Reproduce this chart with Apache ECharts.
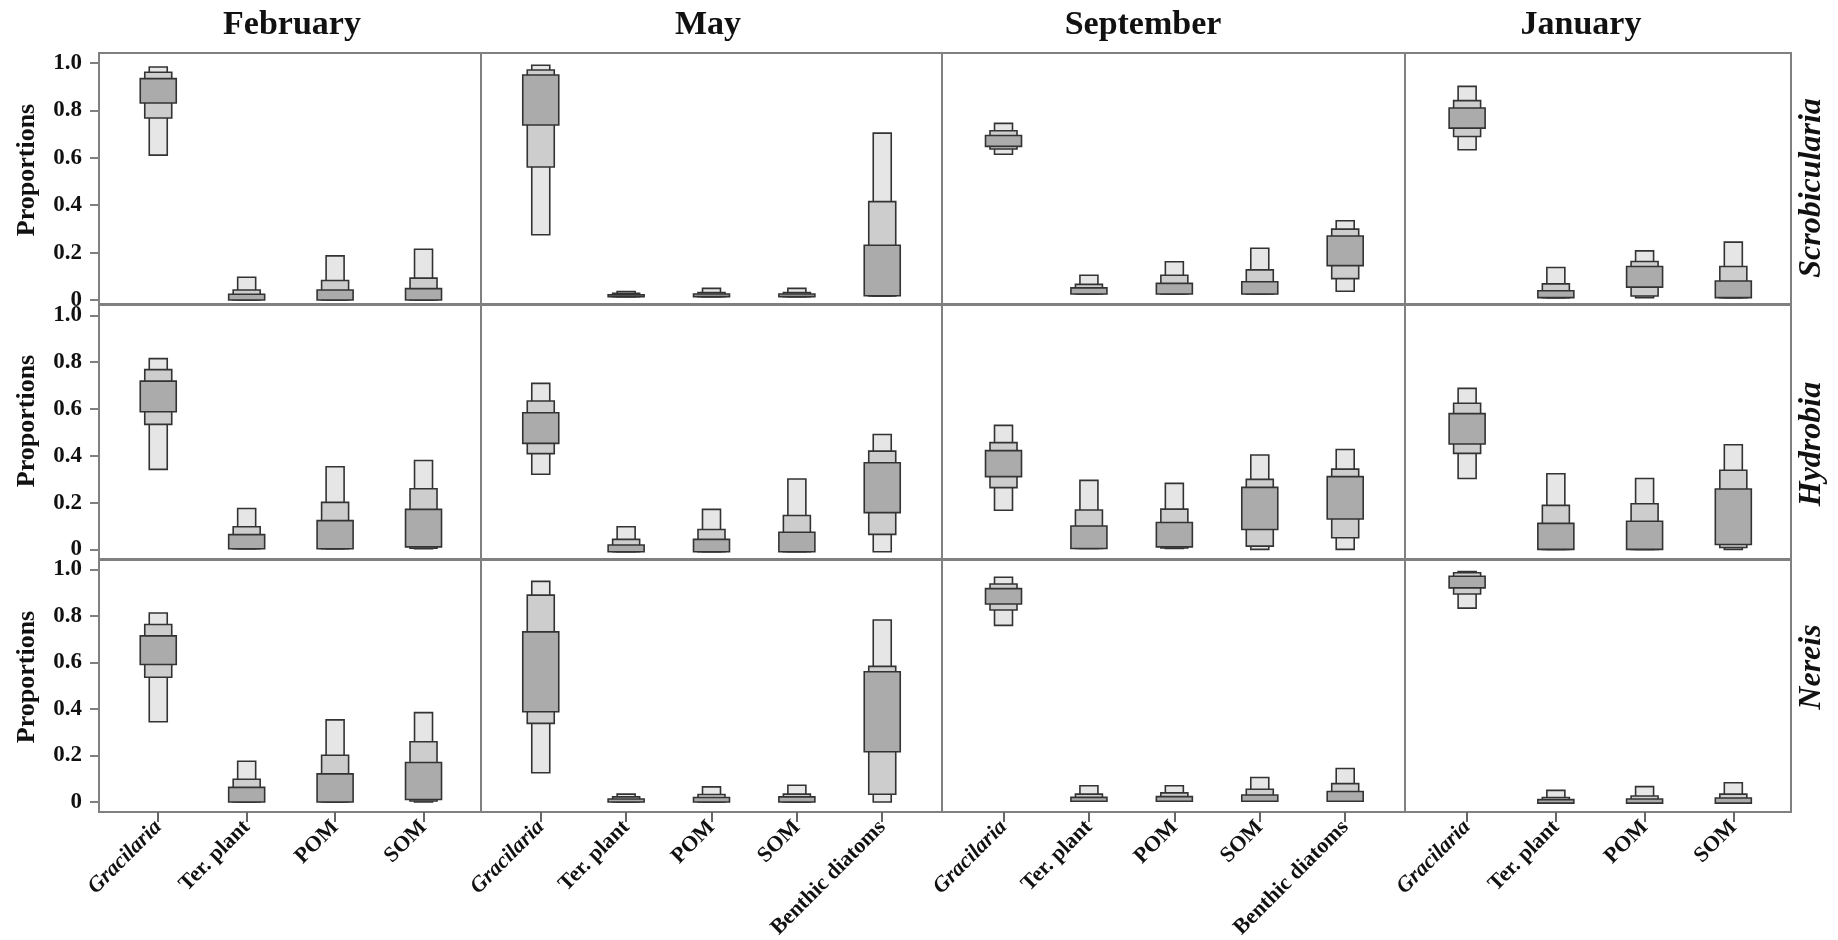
<!DOCTYPE html>
<html>
<head>
<meta charset="utf-8">
<script src="https://cdn.jsdelivr.net/npm/echarts@6/dist/echarts.min.js"></script>
<style>
html,body{margin:0;padding:0;background:#fff;}
#chart{width:1838px;height:940px;}
</style>
</head>
<body>
<div id="chart"></div>
<script>
// ---------- DATA ----------
const months = ['February', 'May', 'September', 'January'];
const rowSpecies = ['Scrobicularia', 'Hydrobia', 'Nereis'];
const sources4 = ['Gracilaria', 'Ter. plant', 'POM', 'SOM'];
const sources5 = ['Gracilaria', 'Ter. plant', 'POM', 'SOM', 'Benthic diatoms'];
const yTickValues = [0, 0.2, 0.4, 0.6, 0.8, 1.0];

// each entry: [lo95, lo75, lo50, hi50, hi75, hi95]
const scrobFeb = [
  [0.611, 0.768, 0.831, 0.934, 0.961, 0.983],
  [0.000, 0.000, 0.000, 0.024, 0.042, 0.096],
  [0.000, 0.000, 0.000, 0.042, 0.082, 0.186],
  [0.000, 0.000, 0.000, 0.048, 0.092, 0.214]
];
const scrobMay = [
  [0.275, 0.561, 0.738, 0.949, 0.970, 0.990],
  [0.014, 0.014, 0.014, 0.022, 0.028, 0.036],
  [0.014, 0.014, 0.014, 0.025, 0.031, 0.049],
  [0.014, 0.014, 0.014, 0.025, 0.031, 0.049],
  [0.017, 0.017, 0.018, 0.231, 0.415, 0.704]
];
const scrobSep = [
  [0.615, 0.637, 0.648, 0.694, 0.714, 0.745],
  [0.025, 0.025, 0.025, 0.051, 0.066, 0.104],
  [0.025, 0.025, 0.025, 0.070, 0.104, 0.161],
  [0.025, 0.025, 0.025, 0.077, 0.127, 0.218],
  [0.037, 0.090, 0.145, 0.270, 0.299, 0.334]
];
const scrobJan = [
  [0.634, 0.690, 0.725, 0.810, 0.841, 0.901],
  [0.010, 0.010, 0.010, 0.039, 0.068, 0.137],
  [0.010, 0.017, 0.054, 0.141, 0.162, 0.207],
  [0.010, 0.010, 0.010, 0.080, 0.141, 0.244]
];
const hydFeb = [
  [0.342, 0.534, 0.588, 0.719, 0.768, 0.815],
  [0.003, 0.003, 0.003, 0.063, 0.097, 0.175],
  [0.003, 0.003, 0.003, 0.123, 0.201, 0.353],
  [0.003, 0.005, 0.011, 0.171, 0.259, 0.380]
];
const hydMay = [
  [0.321, 0.409, 0.453, 0.584, 0.634, 0.709],
  [-0.010, -0.010, -0.010, 0.019, 0.043, 0.097],
  [-0.010, -0.010, -0.010, 0.043, 0.085, 0.171],
  [-0.010, -0.010, -0.010, 0.073, 0.145, 0.301],
  [-0.010, 0.064, 0.157, 0.370, 0.420, 0.491]
];
const hydSep = [
  [0.167, 0.264, 0.311, 0.422, 0.456, 0.530],
  [0.004, 0.004, 0.004, 0.100, 0.168, 0.295],
  [0.004, 0.006, 0.011, 0.115, 0.172, 0.282],
  [0.000, 0.014, 0.085, 0.265, 0.299, 0.403],
  [0.000, 0.050, 0.130, 0.311, 0.343, 0.427]
];
const hydJan = [
  [0.303, 0.410, 0.450, 0.580, 0.624, 0.688],
  [0.000, 0.000, 0.000, 0.111, 0.188, 0.323],
  [0.000, 0.000, 0.000, 0.120, 0.195, 0.303],
  [0.000, 0.008, 0.021, 0.258, 0.338, 0.447]
];
const nerFeb = [
  [0.345, 0.536, 0.591, 0.714, 0.763, 0.812],
  [0.000, 0.000, 0.000, 0.063, 0.098, 0.175],
  [0.000, 0.000, 0.000, 0.121, 0.201, 0.353],
  [0.000, 0.004, 0.011, 0.170, 0.259, 0.384]
];
const nerMay = [
  [0.126, 0.338, 0.388, 0.731, 0.889, 0.948],
  [0.000, 0.000, 0.000, 0.013, 0.022, 0.034],
  [0.000, 0.000, 0.000, 0.019, 0.032, 0.065],
  [0.000, 0.000, 0.000, 0.022, 0.034, 0.072],
  [0.000, 0.033, 0.216, 0.560, 0.583, 0.782]
];
const nerSep = [
  [0.759, 0.825, 0.851, 0.917, 0.937, 0.966],
  [0.003, 0.003, 0.003, 0.020, 0.034, 0.070],
  [0.003, 0.003, 0.003, 0.023, 0.039, 0.070],
  [0.003, 0.003, 0.003, 0.030, 0.055, 0.105],
  [0.003, 0.003, 0.003, 0.045, 0.079, 0.144]
];
const nerJan = [
  [0.833, 0.894, 0.920, 0.970, 0.985, 0.990],
  [-0.005, -0.005, -0.005, 0.010, 0.019, 0.050],
  [-0.005, -0.005, -0.005, 0.013, 0.026, 0.066],
  [-0.005, -0.005, -0.005, 0.017, 0.034, 0.083]
];

const panelData = [
  [scrobFeb, scrobMay, scrobSep, scrobJan],
  [hydFeb, hydMay, hydSep, hydJan],
  [nerFeb, nerMay, nerSep, nerJan]
];
const panelSources = [sources4, sources5, sources5, sources4];

// ---------- LAYOUT ----------
const colLeft = [99, 481, 942, 1405];
const colWidth = [382, 461, 463, 386];
const xMin = [-0.67, -0.70, -0.72, -0.70];
const xMax = [3.65, 4.70, 4.70, 3.65];
const rowTop = [53, 305, 560];
const rowHeight = [251, 254, 252];
const yMin = [-0.017, -0.041, -0.043];
const yMax = [1.042, 1.044, 1.040];
const titleX = [292, 708, 1143, 1581];
const rowLabelY = [188, 444, 667];
const propLabelY = [170, 421, 677];

const SERIF = '"Liberation Serif", "Times New Roman", serif';
const BORDER = '#808080';
const FILL_LIGHT = '#e6e6e6', FILL_MID = '#cdcdcd', FILL_DARK = '#ababab';
const STROKE = '#333333';

function renderItem(params, api) {
  const x = api.value(0);
  const levels = [
    [1, 6, 18, FILL_LIGHT],
    [2, 5, 27, FILL_MID],
    [3, 4, 36, FILL_DARK]
  ];
  const children = levels.map(([loI, hiI, w, fill]) => {
    const top = api.coord([x, api.value(hiI)]);
    const bot = api.coord([x, api.value(loI)]);
    return {
      type: 'rect',
      shape: { x: top[0] - w / 2, y: top[1], width: w, height: Math.max(bot[1] - top[1], 1) },
      style: { fill: fill, stroke: STROKE, lineWidth: 1.6 }
    };
  });
  return { type: 'group', children: children };
}

const grids = [], xAxes = [], yAxes = [], series = [];
let gi = 0;
for (let r = 0; r < 3; r++) {
  for (let c = 0; c < 4; c++) {
    grids.push({
      left: colLeft[c], top: rowTop[r], width: colWidth[c], height: rowHeight[r],
      containLabel: false, outerBoundsMode: 'none',
      show: true, borderColor: BORDER, borderWidth: 2, backgroundColor: 'transparent'
    });
    const names = panelSources[c];
    const idx = names.map((_, i) => i);
    const bottom = r === 2;
    xAxes.push({
      type: 'value', gridIndex: gi, min: xMin[c], max: xMax[c], position: 'bottom',
      splitLine: { show: false },
      axisLine: { show: bottom, onZero: false, lineStyle: { color: BORDER, width: 2 } },
      axisTick: { show: bottom, customValues: idx, length: 10, lineStyle: { color: '#666', width: 2 } },
      axisLabel: {
        show: bottom, customValues: idx, rotate: 45, margin: 12,
        fontFamily: SERIF, fontWeight: 'bold', fontSize: 22, color: '#111',
        formatter: v => (Math.round(v) === 0 ? '{it|' + names[0] + '}' : names[Math.round(v)]),
        rich: { it: { fontStyle: 'italic', fontWeight: 'bold', fontFamily: SERIF, fontSize: 22, color: '#111' } }
      }
    });
    const first = c === 0;
    yAxes.push({
      type: 'value', gridIndex: gi, min: yMin[r], max: yMax[r], position: 'left',
      splitLine: { show: false },
      axisLine: { show: first, onZero: false, lineStyle: { color: BORDER, width: 2 } },
      axisTick: { show: first, customValues: yTickValues, length: 9, lineStyle: { color: BORDER, width: 2 } },
      axisLabel: {
        show: first, customValues: yTickValues, margin: 17,
        fontFamily: SERIF, fontWeight: 'bold', fontSize: 23, color: '#111',
        formatter: v => (Math.abs(v) < 1e-9 ? '0' : v.toFixed(1))
      }
    });
    series.push({
      type: 'custom', xAxisIndex: gi, yAxisIndex: gi,
      renderItem: renderItem,
      encode: { x: 0, y: [1, 2, 3, 4, 5, 6] },
      data: panelData[r][c].map((d, i) => [i].concat(d)),
      silent: true
    });
    gi++;
  }
}

const graphics = [];
months.forEach((m, c) => {
  graphics.push({
    type: 'text', x: titleX[c], y: 25,
    style: { text: m, font: 'bold 34px ' + SERIF, fill: '#111', textAlign: 'center', textVerticalAlign: 'middle' }
  });
});
rowSpecies.forEach((s, r) => {
  graphics.push({
    type: 'text', x: 1812, y: rowLabelY[r], rotation: Math.PI / 2,
    style: { text: s, font: 'italic bold 32px ' + SERIF, fill: '#111', textAlign: 'center', textVerticalAlign: 'middle' }
  });
  graphics.push({
    type: 'text', x: 27, y: propLabelY[r], rotation: Math.PI / 2,
    style: { text: 'Proportions', font: 'bold 26px ' + SERIF, fill: '#111', textAlign: 'center', textVerticalAlign: 'middle' }
  });
});

const chart = echarts.init(document.getElementById('chart'), null, { renderer: 'canvas' });
chart.setOption({
  animation: false,
  backgroundColor: '#ffffff',
  grid: grids,
  xAxis: xAxes,
  yAxis: yAxes,
  series: series,
  graphic: graphics
});
</script>
</body>
</html>
